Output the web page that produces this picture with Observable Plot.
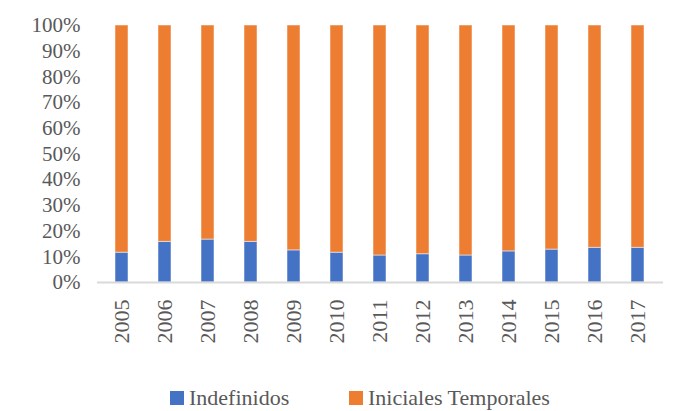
<!DOCTYPE html>
<html>
<head>
<meta charset="utf-8">
<script src="https://cdn.jsdelivr.net/npm/d3@7"></script>
<script src="https://cdn.jsdelivr.net/npm/@observablehq/plot@0.6"></script>
<style>
  html, body { margin: 0; padding: 0; background: #fff; }
  #chart svg, #legend svg { display: block; }
</style>
</head>
<body>
<div id="chart"></div>
<div id="legend"></div>
<script>
const years = ["2005","2006","2007","2008","2009","2010","2011","2012","2013","2014","2015","2016","2017"];
const indefinidos = [11.6, 15.8, 16.7, 15.8, 12.5, 11.6, 10.5, 11.0, 10.5, 12.1, 12.8, 13.5, 13.5];
const temporales = [88.4, 84.2, 83.3, 84.2, 87.5, 88.4, 89.5, 89.0, 89.5, 87.9, 87.2, 86.5, 86.5];
const seriesNames = ["Indefinidos", "Iniciales Temporales"];
const seriesColors = ["#4472C4", "#ED7D31"];
const yTicks = [0, 10, 20, 30, 40, 50, 60, 70, 80, 90, 100];

const data = [];
years.forEach((y, i) => {
  data.push({year: y, serie: seriesNames[0], value: indefinidos[i]});
  data.push({year: y, serie: seriesNames[1], value: temporales[i]});
});

const serif = "'Liberation Serif', 'Times New Roman', serif";
const plot = Plot.plot({
  width: 674,
  height: 372,
  marginTop: 25,
  marginBottom: 90,
  marginLeft: 97,
  marginRight: 11,
  style: {fontFamily: serif, color: "#595959", background: "#fff"},
  x: {domain: years, paddingInner: 0.69, paddingOuter: 0.35, label: null},
  y: {domain: [0, 100], label: null},
  color: {domain: seriesNames, range: seriesColors},
  marks: [
    Plot.barY(data, Plot.stackY({order: seriesNames}, {x: "year", y: "value", fill: "serie", stroke: "#ffffff", strokeOpacity: 0.5, strokeWidth: 1})),
    Plot.ruleY([0], {stroke: "#d9d9d9", strokeWidth: 2}),
    Plot.axisY({ticks: yTicks, tickFormat: d => d + "%", tickSize: 0, tickPadding: 17, fontSize: 21, label: null}),
    Plot.axisX({tickSize: 0, tickPadding: 17, tickRotate: -90, fontSize: 22, label: null})
  ]
});
document.getElementById("chart").appendChild(plot);

// Legend below the chart, as its own small SVG
const lsvg = d3.select("#legend").append("svg")
  .attr("width", 674).attr("height", 39)
  .style("font-family", serif);
const swatchX = [170, 349];
const textX = [189, 368];
seriesNames.forEach((name, i) => {
  lsvg.append("rect").attr("x", swatchX[i]).attr("y", 19).attr("width", 14).attr("height", 14).attr("fill", seriesColors[i]);
  lsvg.append("text").attr("x", textX[i]).attr("y", 33).attr("font-size", 22).attr("fill", "#595959").text(name);
});
</script>
</body>
</html>
